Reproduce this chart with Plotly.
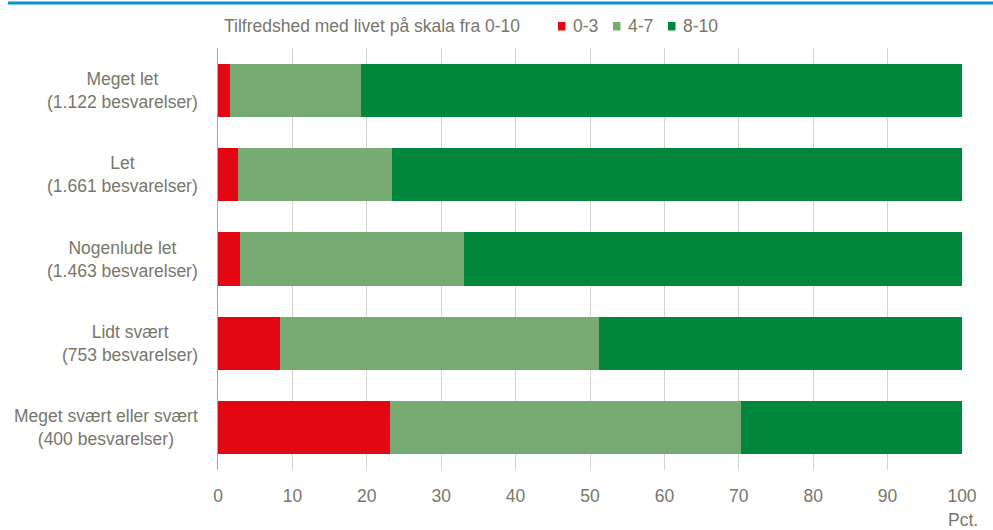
import plotly.graph_objects as go

# ---- data ----
categories = ["Meget let", "Let", "Nogenlude let", "Lidt svært", "Meget svært eller svært"]
responses = ["1.122", "1.661", "1.463", "753", "400"]
series_names = ["0-3", "4-7", "8-10"]
low = [1.6, 2.7, 3.0, 8.3, 23.1]
mid = [17.6, 20.7, 30.1, 42.9, 47.2]
high = [80.8, 76.6, 66.9, 48.8, 29.7]
x_ticks = [0, 10, 20, 30, 40, 50, 60, 70, 80, 90, 100]
legend_title = "Tilfredshed med livet på skala fra 0-10"
unit_label = "Pct."

# ---- style ----
colors = ["#e30613", "#78aa73", "#00873c"]
FONT = "Liberation Sans, Arial, sans-serif"
FS = 17.5
TXT = "#77776b"
W, H = 993, 530
ML, MR, MT, MB = 218, 31, 48, 60
PW = W - ML - MR
PH = H - MT - MB


def px_x(p):
    return (p - ML) / PW


def px_y(p):
    return (H - MB - p) / PH


fig = go.Figure()
for name, vals, col in zip(series_names, [low, mid, high], colors):
    fig.add_trace(go.Bar(
        y=categories, x=vals, name=name, orientation="h",
        marker=dict(color=col, line=dict(width=0)),
        showlegend=False, hoverinfo="x+name",
    ))

annotations = []
# category labels (centered multi-line)
for c, n in zip(categories, responses):
    annotations.append(dict(
        text=f"{c}<br>({n} besvarelser)", xref="paper", x=0, xanchor="right", xshift=-18,
        yref="y", y=c, yanchor="middle", align="center", showarrow=False,
        font=dict(family=FONT, size=FS, color=TXT),
    ))
# unit label
annotations.append(dict(
    text=unit_label, xref="x", x=100, xanchor="center", xshift=1,
    yref="paper", y=0, yanchor="top", yshift=-38, showarrow=False,
    font=dict(family=FONT, size=FS, color=TXT),
))
# legend title
annotations.append(dict(
    text=legend_title, xref="paper", x=px_x(222), xanchor="left",
    yref="paper", y=px_y(26), yanchor="middle", showarrow=False,
    font=dict(family=FONT, size=FS, color=TXT),
))
shapes = []
legend_sq_x = [558, 613, 668]
for name, col, sx in zip(series_names, colors, legend_sq_x):
    shapes.append(dict(type="rect", xref="paper", yref="paper",
                       x0=px_x(sx), x1=px_x(sx + 7.5), y0=px_y(30.5), y1=px_y(22),
                       fillcolor=col, line=dict(width=0)))
    annotations.append(dict(
        text=name, xref="paper", x=px_x(sx + 13), xanchor="left",
        yref="paper", y=px_y(26), yanchor="middle", showarrow=False,
        font=dict(family=FONT, size=FS, color=TXT),
    ))
# top blue rule
shapes.append(dict(type="line", xref="paper", yref="paper",
                   x0=px_x(8), x1=px_x(W + 2), y0=px_y(3), y1=px_y(3),
                   line=dict(color="#0b8fd1", width=3)))

fig.update_layout(
    width=W, height=H, barmode="stack", bargap=0.37,
    margin=dict(l=ML, r=MR, t=MT, b=MB),
    paper_bgcolor="white", plot_bgcolor="white",
    font=dict(family=FONT, size=FS, color=TXT),
    annotations=annotations, shapes=shapes,
    xaxis=dict(range=[0, 100], tickvals=x_ticks, showgrid=True, gridcolor="#d3d3cb",
               gridwidth=1, zeroline=False, showline=False, ticks="",
               ticklabelstandoff=13,
               tickfont=dict(family=FONT, size=FS, color=TXT), fixedrange=True),
    yaxis=dict(autorange="reversed", showticklabels=False, showgrid=False,
               showline=True, linecolor="#a8a89e", linewidth=1, ticks="", zeroline=False),
)

fig.write_html("out.html", config={"displayModeBar": False},
               post_script="document.body.style.margin='0';")
